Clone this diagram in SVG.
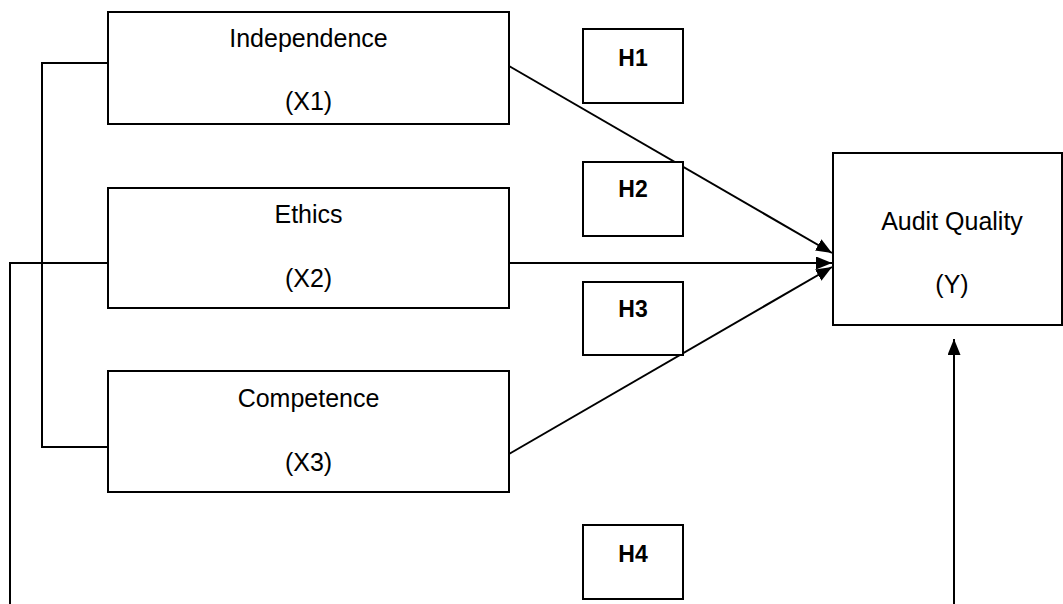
<svg xmlns="http://www.w3.org/2000/svg" width="1063" height="604" viewBox="0 0 1063 604">
<style>
.box{fill:#fff;stroke:#000;stroke-width:2}
.t{font-family:"Liberation Sans",Arial,sans-serif;font-size:25px;fill:#000;text-anchor:middle}
.h{font-family:"Liberation Sans",Arial,sans-serif;font-size:23px;font-weight:bold;fill:#000;text-anchor:middle}
.ln{stroke:#000;stroke-width:2;fill:none}
</style>
<defs>
<marker id="arr" viewBox="0 0 16 13" refX="16" refY="6.5" markerWidth="16" markerHeight="13" markerUnits="userSpaceOnUse" orient="auto">
<path d="M0,0 L16,6.5 L0,13 z" fill="#000"/>
</marker>
</defs>
<rect width="1063" height="604" fill="#fff"/>
<g id="connectors">
<polyline class="ln" points="110,63 42,63 42,447 108,447"/>
<polyline class="ln" points="108,263 10,263 10,604"/>
<line class="ln" x1="509" y1="66" x2="832" y2="253" marker-end="url(#arr)"/>
<line class="ln" x1="509" y1="263" x2="832" y2="263" marker-end="url(#arr)"/>
<line class="ln" x1="509" y1="454" x2="832" y2="267" marker-end="url(#arr)"/>
<line class="ln" x1="954" y1="604" x2="954" y2="339" marker-end="url(#arr)"/>
</g>
<g id="independence">
<rect class="box" x="108" y="12" width="401" height="112"/>
<text class="t" x="308.5" y="47">Independence</text>
<text class="t" x="308.5" y="110">(X1)</text>
</g>
<g id="ethics">
<rect class="box" x="108" y="188" width="401" height="120"/>
<text class="t" x="308.5" y="223">Ethics</text>
<text class="t" x="308.5" y="287">(X2)</text>
</g>
<g id="competence">
<rect class="box" x="108" y="371" width="401" height="121"/>
<text class="t" x="308.5" y="407">Competence</text>
<text class="t" x="308.5" y="471">(X3)</text>
</g>
<g id="h1">
<rect class="box" x="583" y="29" width="100" height="74"/>
<text class="h" x="633" y="66">H1</text>
</g>
<g id="h2">
<rect class="box" x="583" y="162" width="100" height="74"/>
<text class="h" x="633" y="197">H2</text>
</g>
<g id="h3">
<rect class="box" x="583" y="282" width="100" height="73"/>
<text class="h" x="633" y="317">H3</text>
</g>
<g id="h4">
<rect class="box" x="583" y="525" width="100" height="74"/>
<text class="h" x="633" y="562">H4</text>
</g>
<g id="audit-quality">
<rect class="box" x="833" y="153" width="229" height="172"/>
<text class="t" x="952" y="230">Audit Quality</text>
<text class="t" x="952" y="293">(Y)</text>
</g>
</svg>
